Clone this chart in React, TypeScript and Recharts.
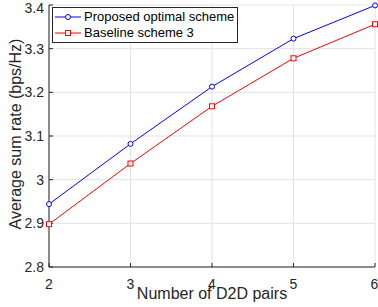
import React from "react";
import { LineChart, Line, XAxis, YAxis, CartesianGrid, Legend } from "recharts";

const FONT = '"Liberation Sans", Arial, Helvetica, sans-serif';
const AXIS = "#262626";

// number of D2D pairs
const xPairs = [2, 3, 4, 5, 6];
// average sum rate (bps/Hz)
const proposed = [2.944, 3.082, 3.213, 3.323, 3.399];
const baseline = [2.898, 3.037, 3.168, 3.278, 3.356];

const xTicks = [2, 3, 4, 5, 6];
const yTicks = [2.8, 2.9, 3, 3.1, 3.2, 3.3, 3.4];

const seriesNames = ["Proposed optimal scheme", "Baseline scheme 3"];
const seriesColors = ["#0000ff", "#ff0000"];

const data = xPairs.map((x, i) => ({ x, proposed: proposed[i], baseline: baseline[i] }));

const SquareDot = (props: any) => {
  const { cx, cy } = props;
  if (cx == null || cy == null) return null;
  return <rect x={cx - 2.5} y={cy - 2.5} width={5} height={5} fill="#fff" stroke="#ff0000" strokeWidth={1} />;
};

const renderLegend = () => (
  <div
    style={{
      border: `1px solid ${AXIS}`,
      background: "#fff",
      width: 184,
      padding: "1px 0",
      fontFamily: FONT,
      fontSize: 13,
      color: "#000",
      lineHeight: "16px",
    }}
  >
    {seriesNames.map((name, i) => (
      <div key={name} style={{ display: "flex", alignItems: "center", height: 16 }}>
        <svg width={30} height={10} style={{ marginLeft: 1 }}>
          <line x1={1} y1={5} x2={27} y2={5} stroke={seriesColors[i]} strokeWidth={1} />
          {i === 0 ? (
            <circle cx={14} cy={5} r={2.5} fill="#fff" stroke={seriesColors[i]} />
          ) : (
            <rect x={11.5} y={2.5} width={5} height={5} fill="#fff" stroke={seriesColors[i]} />
          )}
        </svg>
        <span>{name}</span>
      </div>
    ))}
  </div>
);

const YLabel = (props: any) => {
  const vb = props.viewBox || {};
  const x = vb.x + 16;
  const y = vb.y + vb.height / 2 - 2;
  return (
    <text
      x={x}
      y={y}
      transform={`rotate(-90, ${x}, ${y})`}
      textAnchor="middle"
      fontFamily={FONT}
      fontSize={16}
      fill="#262626"
    >
      Average sum rate (bps/Hz)
    </text>
  );
};

export default function App() {
  return (
    <div style={{ position: "absolute", left: 0, top: 0, background: "#fff" }}>
      <LineChart width={378} height={307} data={data} margin={{ top: 5, right: 3, bottom: 10, left: 5 }}>
        <CartesianGrid stroke="#e3e3e3" strokeWidth={1} />
        <XAxis
          dataKey="x"
          type="number"
          domain={[2, 6]}
          ticks={xTicks}
          height={30}
          tickSize={-4}
          tickMargin={16}
          stroke={AXIS}
          tick={{ fill: "#262626", fontSize: 14, fontFamily: FONT }}
          label={{ value: "Number of D2D pairs", position: "insideBottom", offset: -2, fill: "#262626", fontSize: 16, fontFamily: FONT }}
        />
        <XAxis
          xAxisId="top"
          orientation="top"
          dataKey="x"
          type="number"
          domain={[2, 6]}
          ticks={xTicks}
          height={0}
          tickSize={-4}
          stroke={AXIS}
          tickFormatter={() => ""}
        />
        <YAxis
          type="number"
          domain={[2.8, 3.4]}
          ticks={yTicks}
          width={44}
          tickSize={-4}
          tickMargin={9}
          stroke={AXIS}
          tickFormatter={(v: number) => String(v)}
          tick={{ fill: "#262626", fontSize: 14, fontFamily: FONT }}
          label={<YLabel />}
        />
        <YAxis
          yAxisId="right"
          orientation="right"
          type="number"
          domain={[2.8, 3.4]}
          ticks={yTicks}
          width={0}
          tickSize={-4}
          stroke={AXIS}
          tickFormatter={() => ""}
        />
        <Legend
          layout="vertical"
          align="center"
          verticalAlign="middle"
          content={renderLegend}
          wrapperStyle={{ left: 52, top: 7, width: "auto", height: "auto" }}
        />
        <Line
          dataKey="proposed"
          name={seriesNames[0]}
          stroke={seriesColors[0]}
          strokeWidth={1}
          dot={{ r: 2.5, fill: "#fff", stroke: seriesColors[0], strokeWidth: 1 }}
          activeDot={false}
          isAnimationActive={false}
        />
        <Line
          dataKey="baseline"
          name={seriesNames[1]}
          stroke={seriesColors[1]}
          strokeWidth={1}
          dot={<SquareDot />}
          activeDot={false}
          isAnimationActive={false}
        />
      </LineChart>
    </div>
  );
}
